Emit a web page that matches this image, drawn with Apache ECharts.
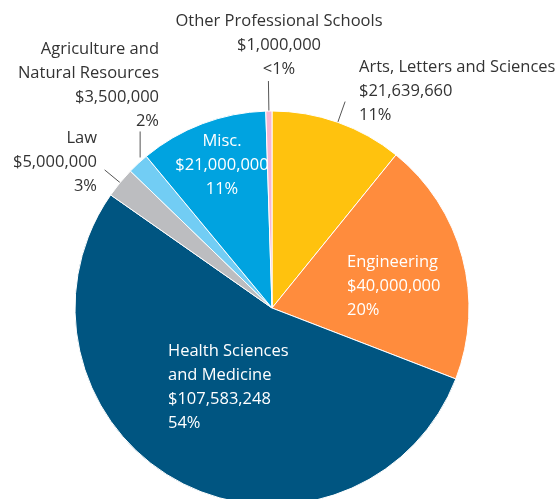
<!DOCTYPE html>
<html>
<head>
<meta charset="utf-8">
<script src="https://cdn.jsdelivr.net/npm/echarts@6/dist/echarts.min.js"></script>
<style>
  html, body { margin: 0; padding: 0; background: #fff; }
  #chart { width: 558px; height: 499px; }
</style>
</head>
<body>
<div id="chart"></div>
<script>
// clockwise from 12 o'clock
const schools = [
  'Arts, Letters and Sciences',
  'Engineering',
  'Health Sciences\nand Medicine',
  'Law',
  'Agriculture and\nNatural Resources',
  'Misc.',
  'Other Professional Schools',
]
const funding = [21639660, 40000000, 107583248, 5000000, 3500000, 21000000, 1000000]
const sliceColors = ['#ffc20e', '#ff8c3d', '#005581', '#bcbdc0', '#72cdf4', '#00a3e0', '#f7b6d2']
const insideLabel = [false, true, true, false, false, true, false]

// where each label block sits (middle of the block)
const labelSpots = [
  { x: 359, y: 91, align: 'left' },
  { x: 347, y: 286, align: 'left' },
  { x: 168, y: 387, align: 'left' },
  { x: 97, y: 162, align: 'right' },
  { x: 159, y: 85, align: 'right' },
  { x: 222, y: 165, align: 'center' },
  { x: 279, y: 45, align: 'center' },
]
const leaderLength = [22, 0, 0, 20, 0, 0, 30]

function money(v) {
  return '$' + v.toLocaleString('en-US')
}

const chart = echarts.init(document.getElementById('chart'))

chart.setOption({
  backgroundColor: '#fff',
  animation: false,
  textStyle: { fontFamily: 'Open Sans' },
  series: [
    {
      type: 'pie',
      center: [272, 308],
      radius: 197,
      startAngle: 90,
      clockwise: true,
      avoidLabelOverlap: false,
      itemStyle: { borderColor: '#fff', borderWidth: 1 },
      label: {
        fontFamily: 'Open Sans',
        fontSize: 16.5,
        lineHeight: 24,
        color: '#333',
        formatter: (p) => {
          const pct = p.percent < 1 ? '<1%' : Math.round(p.percent) + '%'
          return p.name + '\n' + money(p.value) + '\n' + pct
        },
      },
      labelLine: {
        show: true,
        length2: 0,
        smooth: false,
        lineStyle: { color: '#555', width: 1 },
      },
      labelLayout: (params) => {
        const spot = labelSpots[params.dataIndex]
        const out = { x: spot.x, y: spot.y, align: spot.align, verticalAlign: 'middle' }
        const pts = params.labelLinePoints
        if (pts) {
          if (params.dataIndex === 4) {
            // agriculture leader goes straight up
            out.labelLinePoints = [
              [pts[0][0] + 2, pts[0][1] - 6],
              [pts[0][0] + 2, pts[0][1] - 32],
            ]
          } else {
            out.labelLinePoints = [pts[0], pts[1]]
          }
        }
        return out
      },
      data: schools.map((name, i) => ({
        name,
        value: funding[i],
        itemStyle: { color: sliceColors[i] },
        label: insideLabel[i]
          ? { position: 'inside', color: '#fff' }
          : { position: 'outside' },
        labelLine: insideLabel[i]
          ? { show: false }
          : { show: true, length: leaderLength[i] || 20 },
      })),
    },
  ],
})
</script>
</body>
</html>
